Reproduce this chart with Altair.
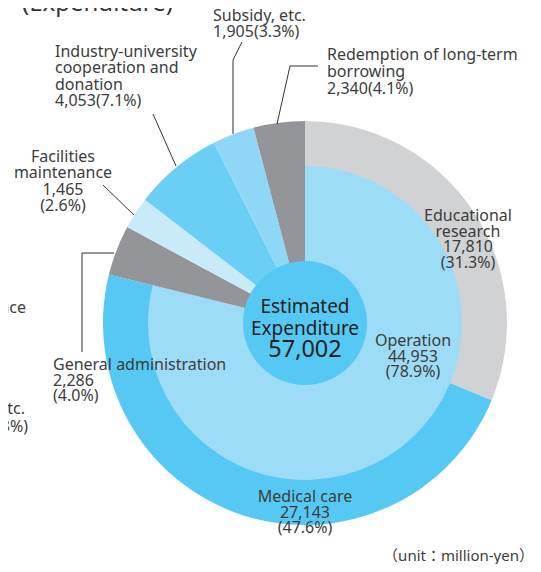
import altair as alt
import pandas as pd

# ---------------- data ----------------
categories = ["Educational research", "Medical care", "General administration",
              "Facilities maintenance", "Industry-university cooperation and donation",
              "Subsidy, etc.", "Redemption of long-term borrowing"]
values = [17810, 27143, 2286, 1465, 4053, 1905, 2340]
percents = ["31.3%", "47.6%", "4.0%", "2.6%", "7.1%", "3.3%", "4.1%"]
colors = ["#d1d2d4", "#55c9f4", "#939598", "#c8eaf9", "#6acef5", "#8fd7f6", "#939598"]

inner_categories = ["Operation", "Other"]
operation_value = 44953
operation_percent = "78.9%"
total_value = 57002
inner_colors = ["#9ddcf7", "rgba(255,255,255,0)"]

df_outer = pd.DataFrame({"category": categories, "value": values,
                         "order": list(range(len(categories)))})
df_inner = pd.DataFrame({"category": inner_categories,
                         "value": [operation_value, total_value - operation_value],
                         "order": [0, 1]})
df_one = pd.DataFrame({"v": [1]})

# ---------------- layout ----------------
W, H = 525, 556
CX, CY = 297, 315          # pie centre in chart pixels
R_OUT, R_IN, R_CORE = 202, 157, 62
FONT = "Noto Sans, Noto Sans CJK JP, sans-serif"
TXT = "#3c3c3c"
OFF = 8  # page margin: image coords -> chart coords

outer = alt.Chart(df_outer).mark_arc(radius=R_OUT).encode(
    theta=alt.Theta("value:Q", stack=True),
    order=alt.Order("order:Q"),
    color=alt.Color("category:N", scale=alt.Scale(domain=categories, range=colors), legend=None),
    x=alt.value(CX), y=alt.value(CY),
)

inner = alt.Chart(df_inner).mark_arc(radius=R_IN).encode(
    theta=alt.Theta("value:Q", stack=True),
    order=alt.Order("order:Q"),
    color=alt.Color("category:N", scale=alt.Scale(domain=inner_categories, range=inner_colors), legend=None),
    x=alt.value(CX), y=alt.value(CY),
)

core = alt.Chart(df_one).mark_arc(radius=R_CORE, color="#55c9f4").encode(
    theta=alt.Theta("v:Q", stack=True),
    x=alt.value(CX), y=alt.value(CY),
)


def fmt(v):
    return f"{v:,}"


def label(lines, x, y, align="left", size=16, color=TXT, lh=16.3, weight="normal"):
    return alt.Chart(df_one).mark_text(
        text=lines, align=align, baseline="alphabetic", fontSize=size, font=FONT,
        color=color, lineHeight=lh, fontWeight=weight,
    ).encode(x=alt.value(x - OFF), y=alt.value(y - OFF))


def seg(x1, y1, x2, y2):
    return alt.Chart(df_one).mark_rule(color="#333333", strokeWidth=1).encode(
        x=alt.value(x1 - OFF), y=alt.value(y1 - OFF),
        x2=alt.value(x2 - OFF), y2=alt.value(y2 - OFF))


texts = [
    label(["Educational", "research", fmt(values[0]), f"({percents[0]})"], 468, 221, "center", lh=15.5),
    label(["Medical care", fmt(values[1]), f"({percents[1]})"], 305, 502, "center", lh=15.5),
    label(["General administration", fmt(values[2]), f"({percents[2]})"], 53, 370, lh=15.5),
    label(["Facilities", "maintenance", fmt(values[3]), f"({percents[3]})"], 63, 162, "center"),
    label(["Industry-university", "cooperation and", "donation",
           f"{fmt(values[4])}({percents[4]})"], 55, 57),
    label(["Subsidy, etc.", f"{fmt(values[5])}({percents[5]})"], 213, 21, lh=15.5),
    label(["Redemption of long-term", "borrowing", f"{fmt(values[6])}({percents[6]})"], 327, 59.5, lh=17),
    label(["Operation", fmt(operation_value), f"({operation_percent})"], 413, 346, "center", lh=15.5),
    label(["Estimated", "Expenditure"], 305, 313, "center", size=19, color="#231f20", lh=22),
    label([fmt(total_value)], 305, 357, "center", size=23.5, color="#231f20"),
    label(["（unit：million-yen）"], 534, 561, "right", size=15),
    # fragments of the neighbouring chart, cut by the picture edge
    label(["(Expenditure)"], 22, 11, "left", size=24, color="#333333"),
    label(["nce"], 26, 313, "right"),
    label(["etc."], 25, 414, "right"),
    label(["3%)"], 28, 432, "right"),
]

lines = [
    seg(242, 42, 233, 60), seg(233, 60, 233, 134),
    seg(318, 66, 290, 66), seg(290, 66, 277, 124),
    seg(153, 114, 176, 166),
    seg(103, 185, 134, 215),
    seg(82, 352, 82, 253), seg(82, 253, 114, 253),
]

chart = alt.layer(outer, inner, core, *lines, *texts).resolve_scale(
    color="independent", theta="independent"
).properties(
    width=W, height=H, padding=0,
    autosize=alt.AutoSizeParams(type="none"),
).configure_view(stroke=None)

chart.save("out.html", embed_options={"renderer": "svg", "actions": False})
